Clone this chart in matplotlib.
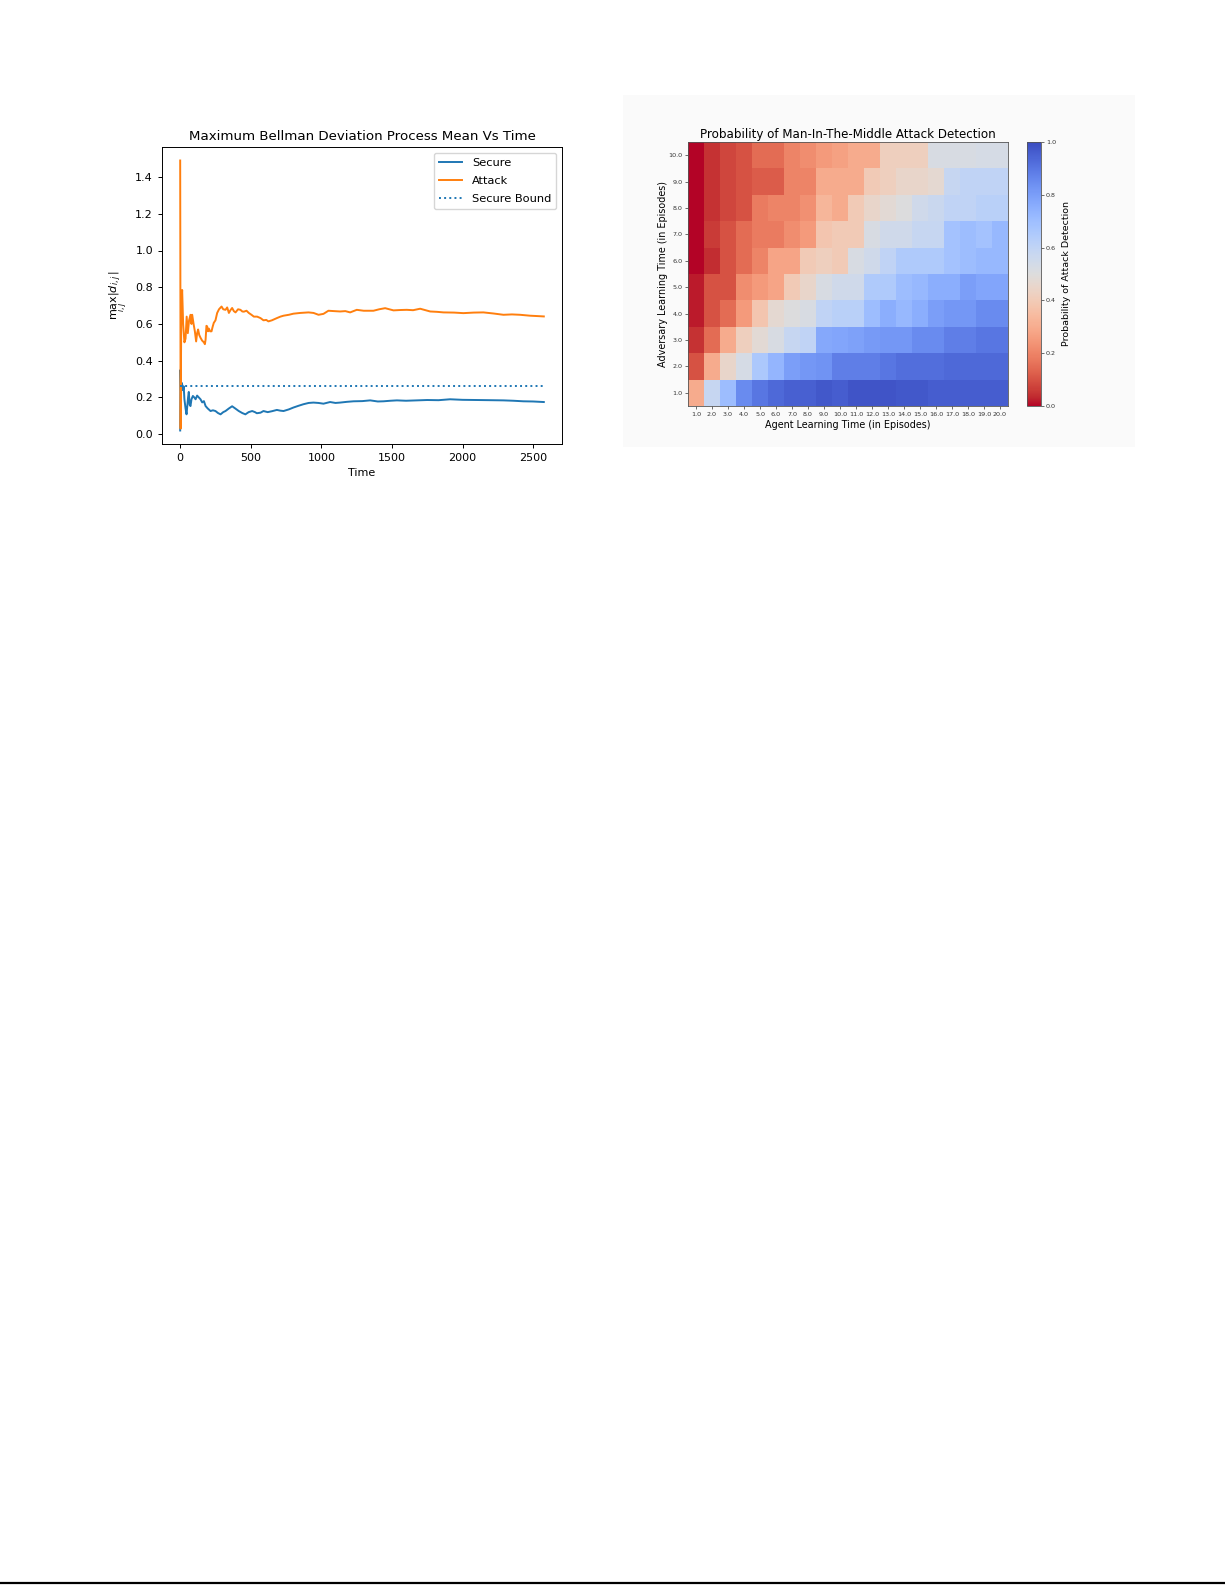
import numpy as np
import matplotlib
matplotlib.use('Agg')
import matplotlib.pyplot as plt
from matplotlib.patches import Rectangle
from matplotlib.lines import Line2D

# ---- left chart: running max Bellman deviation ----
attack_t = [0, 3, 8, 14, 21, 30, 38, 46, 54, 63, 73, 80, 85, 95, 104, 113, 120, 127, 135, 144,
            155, 168, 175, 180, 186, 191, 197, 203, 212, 222, 230, 238, 250, 262, 275, 293, 305,
            321, 333, 345, 356, 368, 380, 392, 410, 427, 440, 451, 470, 486, 505, 522, 545, 569,
            590, 610, 625, 650, 685, 710, 732, 770, 802, 850, 909, 945, 980, 1015, 1050, 1090,
            1133, 1170, 1204, 1251, 1300, 1369, 1410, 1452, 1511, 1560, 1605, 1650, 1700, 1771,
            1820, 1865, 1940, 2006, 2080, 2148, 2220, 2290, 2350, 2408, 2479, 2530, 2576]
attack_v = [1.49, 0.03, 0.70, 0.785, 0.60, 0.50, 0.52, 0.64, 0.55, 0.62, 0.65, 0.60, 0.65, 0.60,
            0.56, 0.505, 0.55, 0.57, 0.54, 0.525, 0.51, 0.50, 0.49, 0.515, 0.59, 0.587, 0.56,
            0.575, 0.56, 0.56, 0.585, 0.606, 0.62, 0.66, 0.68, 0.695, 0.68, 0.677, 0.69, 0.66,
            0.675, 0.687, 0.67, 0.663, 0.68, 0.677, 0.668, 0.667, 0.672, 0.66, 0.65, 0.64, 0.64,
            0.632, 0.62, 0.622, 0.614, 0.62, 0.632, 0.64, 0.645, 0.65, 0.656, 0.66, 0.663, 0.66,
            0.65, 0.655, 0.672, 0.67, 0.668, 0.67, 0.663, 0.677, 0.672, 0.672, 0.68, 0.686,
            0.674, 0.676, 0.677, 0.675, 0.683, 0.668, 0.666, 0.663, 0.662, 0.659, 0.662, 0.663,
            0.657, 0.65, 0.652, 0.65, 0.645, 0.643, 0.641]

secure_t = [0, 2, 6, 10, 14, 20, 25, 30, 38, 45, 50, 56, 61, 67, 73, 80, 90, 100, 109, 120, 132,
            144, 156, 168, 180, 195, 215, 232, 250, 268, 286, 305, 321, 345, 368, 390, 415, 440,
            462, 485, 510, 530, 543, 569, 590, 620, 650, 685, 710, 732, 770, 802, 840, 873, 910,
            944, 980, 1015, 1062, 1100, 1133, 1180, 1228, 1290, 1346, 1400, 1440, 1490, 1535,
            1600, 1676, 1750, 1830, 1912, 2000, 2101, 2200, 2290, 2360, 2431, 2500, 2576]
secure_v = [0.02, 0.35, 0.22, 0.28, 0.27, 0.24, 0.26, 0.19, 0.14, 0.108, 0.15, 0.2, 0.23, 0.16,
            0.153, 0.19, 0.208, 0.2, 0.19, 0.21, 0.2, 0.19, 0.173, 0.18, 0.153, 0.14, 0.126,
            0.13, 0.126, 0.115, 0.108, 0.12, 0.126, 0.14, 0.152, 0.14, 0.126, 0.115, 0.108, 0.12,
            0.126, 0.12, 0.114, 0.117, 0.126, 0.12, 0.125, 0.132, 0.128, 0.126, 0.135, 0.145,
            0.155, 0.163, 0.17, 0.172, 0.17, 0.166, 0.175, 0.17, 0.172, 0.176, 0.179, 0.18,
            0.184, 0.178, 0.179, 0.182, 0.184, 0.182, 0.184, 0.186, 0.185, 0.19, 0.187, 0.186,
            0.185, 0.184, 0.182, 0.179, 0.178, 0.175]

secure_bound = 0.262

# ---- right chart: detection probability (rows = adversary 1..10, cols = agent 1..20) ----
agent_episodes = [float(i) for i in range(1, 21)]
adversary_episodes = [float(i) for i in range(1, 11)]
detect_prob = [
    [0.30, 0.58, 0.70, 0.85, 0.90, 0.93, 0.95, 0.95, 0.97, 0.96, 0.98, 0.98, 0.98, 0.97, 0.97, 0.96, 0.96, 0.96, 0.96, 0.96],
    [0.10, 0.30, 0.45, 0.53, 0.66, 0.73, 0.80, 0.82, 0.83, 0.88, 0.88, 0.88, 0.90, 0.92, 0.92, 0.92, 0.93, 0.93, 0.93, 0.93],
    [0.05, 0.15, 0.30, 0.42, 0.48, 0.52, 0.58, 0.60, 0.77, 0.78, 0.79, 0.81, 0.82, 0.82, 0.85, 0.85, 0.88, 0.88, 0.90, 0.90],
    [0.02, 0.10, 0.15, 0.25, 0.38, 0.47, 0.50, 0.52, 0.60, 0.62, 0.62, 0.70, 0.75, 0.72, 0.75, 0.80, 0.82, 0.82, 0.85, 0.85],
    [0.02, 0.10, 0.10, 0.22, 0.25, 0.28, 0.40, 0.45, 0.52, 0.55, 0.55, 0.65, 0.65, 0.70, 0.72, 0.75, 0.75, 0.80, 0.78, 0.78],
    [0.00, 0.04, 0.10, 0.15, 0.20, 0.28, 0.28, 0.40, 0.42, 0.40, 0.52, 0.55, 0.60, 0.65, 0.65, 0.65, 0.68, 0.70, 0.72, 0.72],
    [0.00, 0.06, 0.10, 0.15, 0.18, 0.18, 0.22, 0.25, 0.38, 0.40, 0.40, 0.52, 0.55, 0.55, 0.58, 0.58, 0.68, 0.70, 0.68, 0.72],
    [0.00, 0.05, 0.08, 0.10, 0.18, 0.20, 0.20, 0.23, 0.33, 0.30, 0.40, 0.45, 0.48, 0.50, 0.55, 0.57, 0.60, 0.60, 0.62, 0.62],
    [0.00, 0.05, 0.08, 0.10, 0.12, 0.12, 0.20, 0.20, 0.30, 0.30, 0.30, 0.40, 0.42, 0.45, 0.45, 0.47, 0.58, 0.60, 0.60, 0.60],
    [0.00, 0.05, 0.08, 0.10, 0.15, 0.15, 0.20, 0.22, 0.25, 0.27, 0.30, 0.30, 0.42, 0.42, 0.42, 0.52, 0.52, 0.52, 0.53, 0.53],
]

fig = plt.figure(figsize=(12.25, 15.85), dpi=100)

# faint backdrop behind the heatmap screenshot, and page rule at the bottom
fig.patches.append(Rectangle((623 / 1225, 1 - 447 / 1585), 512 / 1225, 352 / 1585,
                             transform=fig.transFigure, facecolor='#fafafa',
                             edgecolor='none', zorder=-5))
fig.lines.append(Line2D([0, 1], [0.0012, 0.0012], transform=fig.transFigure,
                        color='black', linewidth=1.6))

# ---- left: line chart ----
ax = fig.add_axes([162 / 1225, 1 - 444 / 1585, 400 / 1225, 297 / 1585])
ax.plot(secure_t, secure_v, color='C0', linewidth=1.4, label='Secure')
ax.plot(attack_t, attack_v, color='C1', linewidth=1.4, label='Attack')
ax.plot([secure_t[0], secure_t[-1]], [secure_bound, secure_bound], color='C0',
        linestyle=':', linewidth=1.4, label='Secure Bound')
ax.set_title('Maximum Bellman Deviation Process Mean Vs Time', fontsize=9.6, pad=5)
ax.set_xlabel('Time', fontsize=8, labelpad=3.5)
ax.set_ylabel(r'$\max_{i,j}|d_{i,j}|$', fontsize=8)
ax.set_xticks([0, 500, 1000, 1500, 2000, 2500])
ax.set_yticks([0.0, 0.2, 0.4, 0.6, 0.8, 1.0, 1.2, 1.4])
ax.tick_params(labelsize=8, length=3, width=0.7)
for s in ax.spines.values():
    s.set_linewidth(0.7)
ax.legend(loc='upper right', fontsize=8.2, handlelength=2.0, borderpad=0.45,
          labelspacing=0.7, handletextpad=0.9, framealpha=0.8)

# ---- right: heatmap ----
hax = fig.add_axes([688 / 1225, 1 - 406 / 1585, 320 / 1225, 264 / 1585])
grid = np.array(detect_prob)
im = hax.imshow(grid, cmap='coolwarm_r', vmin=0.0, vmax=1.0, origin='lower', aspect='auto',
                extent=(0.5, len(agent_episodes) + 0.5, 0.5, len(adversary_episodes) + 0.5),
                interpolation='nearest')
hax.set_xticks(range(1, len(agent_episodes) + 1))
hax.set_xticklabels([f'{v:.1f}' for v in agent_episodes])
hax.set_yticks(range(1, len(adversary_episodes) + 1))
hax.set_yticklabels([f'{v:.1f}' for v in adversary_episodes])
hax.tick_params(labelsize=4.6, length=2, width=0.5, pad=2, colors='#333333')
hax.set_title('Probability of Man-In-The-Middle Attack Detection', fontsize=8.6, pad=3)
hax.set_xlabel('Agent Learning Time (in Episodes)', fontsize=6.9, labelpad=2.5)
hax.set_ylabel('Adversary Learning Time (in Episodes)', fontsize=6.9, labelpad=0.5)
for s in hax.spines.values():
    s.set_linewidth(0.6)
    s.set_color('#555555')

cax = fig.add_axes([1027 / 1225, 1 - 406 / 1585, 13.5 / 1225, 264 / 1585])
cb = fig.colorbar(im, cax=cax)
cb.set_ticks([0.0, 0.2, 0.4, 0.6, 0.8, 1.0])
cb.ax.tick_params(labelsize=4.6, length=2, width=0.5, pad=2, colors='#333333')
cb.outline.set_linewidth(0.6)
cb.outline.set_edgecolor('#555555')
cb.set_label('Probability of Attack Detection', fontsize=6.8, labelpad=4)

fig.savefig('out.png', dpi=100)
